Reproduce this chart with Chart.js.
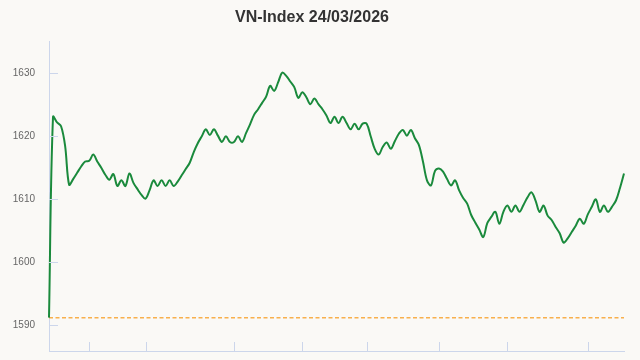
<!DOCTYPE html>
<html lang="vi">
<head>
    <meta charset="UTF-8">
    <title>VN-Index 24/03/2026</title>
    <script src="https://cdn.jsdelivr.net/npm/chart.js"></script>
    <style>
        html, body { margin: 0; padding: 0; background: #faf9f6; }
        #wrap { width: 640px; height: 360px; }
        canvas { display: block; }
    </style>
</head>
<body>
    <div id="wrap"><canvas id="vnindex-chart"></canvas></div>

    <script>
        // Intraday VN-Index values
        const indexValues = [
            1591.2, 1623.1, 1622.2, 1621.6, 1618.5, 1612.3, 1613.2, 1614.2, 1615.2, 1616.0,
            1616.1, 1617.1, 1616.0, 1615.0, 1613.9, 1613.1, 1614.0, 1612.1, 1613.0, 1612.1,
            1614.1, 1612.6, 1611.6, 1610.7, 1610.1, 1611.4, 1613.0, 1612.1, 1613.0, 1612.1,
            1613.0, 1612.1, 1612.8, 1613.8, 1614.8, 1615.8, 1617.5, 1618.9, 1620.0, 1621.1,
            1620.2, 1621.1, 1620.1, 1619.1, 1620.0, 1619.1, 1619.1, 1620.0, 1619.1, 1620.5,
            1621.9, 1623.4, 1624.3, 1625.3, 1626.3, 1628.0, 1627.2, 1628.6, 1630.1, 1629.6,
            1628.7, 1627.8, 1626.1, 1627.0, 1626.2, 1625.1, 1626.0, 1625.1, 1624.3, 1623.3,
            1622.1, 1623.1, 1622.1, 1623.1, 1622.1, 1621.1, 1622.0, 1621.1, 1622.0, 1622.0,
            1620.0, 1618.0, 1617.1, 1618.3, 1619.0, 1618.0, 1619.2, 1620.4, 1621.0, 1620.1,
            1621.0, 1619.7, 1618.6, 1616.0, 1613.0, 1612.2, 1614.5, 1614.9, 1614.4, 1613.2,
            1612.2, 1613.0, 1611.4, 1610.2, 1609.3, 1607.5, 1606.3, 1605.2, 1604.0, 1606.2,
            1607.2, 1608.0, 1606.1, 1608.0, 1609.0, 1608.0, 1609.0, 1608.0, 1609.1, 1610.3,
            1611.1, 1609.8, 1608.0, 1609.0, 1607.4, 1606.7, 1605.6, 1604.6, 1603.1, 1603.8,
            1604.8, 1605.8, 1606.9, 1606.1, 1607.6, 1608.8, 1610.0, 1608.0, 1609.0, 1608.0,
            1608.8, 1609.8, 1611.8, 1614.1
        ];
        const pointLabels = indexValues.map((v, i) => i);

        // Reference (previous close) price, dashed line
        const refPrice = 1591.2;

        // Axis ticks
        const yTicks = [1590, 1600, 1610, 1620, 1630];
        const xTickIdx = [10, 24, 46, 63, 79, 97, 114, 134];
        const yMin = 1585.9;
        const yMax = 1635.1;

        const axisColor = '#ccd6eb';
        const fontFamily = '"Liberation Sans", Arial, sans-serif';

        // Dashed reference line, drawn under the index line
        const refLinePlugin = {
            id: 'refLine',
            beforeDatasetsDraw(chart) {
                const { ctx, chartArea, scales } = chart;
                const y = scales.y.getPixelForValue(refPrice);
                ctx.save();
                ctx.strokeStyle = '#f8b04c';
                ctx.lineWidth = 1.5;
                ctx.setLineDash([4, 2.5]);
                ctx.beginPath();
                ctx.moveTo(chartArea.left, y);
                ctx.lineTo(chartArea.right, y);
                ctx.stroke();
                ctx.restore();
            }
        };

        // Short tick marks pointing into the plot area
        const innerTicksPlugin = {
            id: 'innerTicks',
            afterDraw(chart) {
                const { ctx, chartArea, scales } = chart;
                ctx.save();
                ctx.strokeStyle = axisColor;
                ctx.lineWidth = 1;
                ctx.beginPath();
                for (const v of yTicks) {
                    const y = Math.round(scales.y.getPixelForValue(v)) + 0.5;
                    ctx.moveTo(chartArea.left, y);
                    ctx.lineTo(chartArea.left + 9, y);
                }
                for (const i of xTickIdx) {
                    const x = Math.round(scales.x.getPixelForValue(i)) + 0.5;
                    ctx.moveTo(x, chartArea.bottom);
                    ctx.lineTo(x, chartArea.bottom - 9);
                }
                ctx.stroke();
                ctx.restore();
            }
        };

        new Chart(document.getElementById('vnindex-chart'), {
            type: 'line',
            data: {
                labels: pointLabels,
                datasets: [{
                    label: 'VN-Index',
                    data: indexValues,
                    borderColor: '#1a8a3c',
                    borderWidth: 2,
                    pointRadius: 0,
                    tension: 0.35,
                    fill: false
                }]
            },
            options: {
                responsive: true,
                maintainAspectRatio: false,
                animation: false,
                layout: { padding: { left: 0, right: 16, top: 0, bottom: 9 } },
                plugins: {
                    legend: { display: false },
                    tooltip: { enabled: false },
                    title: {
                        display: true,
                        text: 'VN-Index 24/03/2026',
                        color: '#333333',
                        font: { family: fontFamily, size: 16, weight: 'bold' },
                        padding: { top: 8, bottom: 14 }
                    }
                },
                scales: {
                    x: {
                        grid: { display: false, drawTicks: false },
                        border: { display: true, color: axisColor, width: 1 },
                        ticks: { display: false }
                    },
                    y: {
                        min: yMin,
                        max: yMax,
                        afterBuildTicks: scale => {
                            scale.ticks = yTicks.map(v => ({ value: v }));
                        },
                        afterFit: scale => { scale.width = 49; },
                        grid: {
                            display: true,
                            drawOnChartArea: false,
                            drawTicks: true,
                            tickLength: 11,
                            tickColor: 'rgba(0,0,0,0)'
                        },
                        border: { display: true, color: axisColor, width: 1 },
                        ticks: {
                            padding: 3,
                            color: '#666666',
                            font: { family: fontFamily, size: 10 },
                            callback: v => String(v)
                        }
                    }
                }
            },
            plugins: [refLinePlugin, innerTicksPlugin]
        });
    </script>
</body>
</html>
